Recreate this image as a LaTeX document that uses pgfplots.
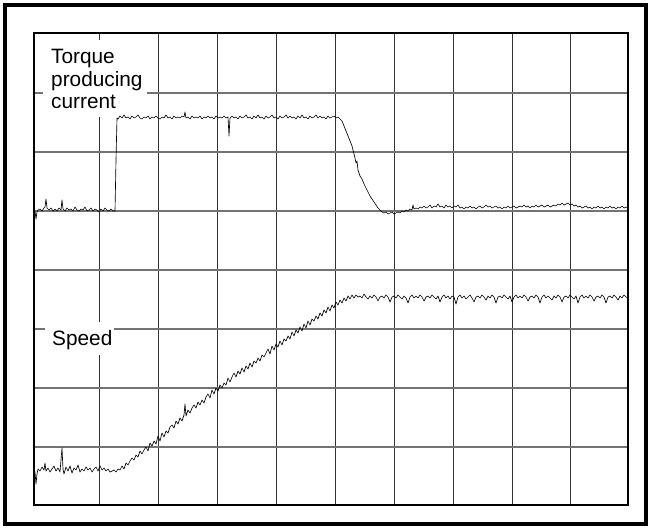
\documentclass[border=0pt]{standalone}
\usepackage{pgfplots}
\pgfplotsset{compat=1.18}
\usepackage{fontspec}
\setmainfont{Liberation Sans}

\begin{document}
\begin{tikzpicture}[x=1pt,y=1pt]
\useasboundingbox (0,0) rectangle (652,531);
% outer frame
\draw[line width=4pt] (5,7) rectangle (646,526);
\begin{axis}[
  at={(34pt,26pt)}, anchor=south west,
  scale only axis, width=594pt, height=472pt,
  xmin=34, xmax=628, ymin=33, ymax=505, y dir=reverse,
  xtick={99,158,217,276,335,394,453,512,570},
  ytick={93,152,211,270,329,388,447},
  xticklabels={}, yticklabels={},
  major tick length=0pt,
  grid=major,
  major x grid style={black!80, line width=1pt},
  major y grid style={black!55, line width=1.2pt},
  axis line style={black, line width=1.4pt},
  clip=false,
]
% white boxes behind the labels
\fill[white] (axis cs:43,40) rectangle (axis cs:147,117);
\fill[white] (axis cs:45,322) rectangle (axis cs:114,355);
\node[anchor=base west, inner sep=0pt, font=\fontsize{20.8pt}{23pt}\selectfont] at (axis cs:51,63) {Torque};
\node[anchor=base west, inner sep=0pt, font=\fontsize{20.8pt}{23pt}\selectfont] at (axis cs:51,86) {producing};
\node[anchor=base west, inner sep=0pt, font=\fontsize{20.8pt}{23pt}\selectfont] at (axis cs:51,108) {current};
\node[anchor=base west, inner sep=0pt, font=\fontsize{20.8pt}{23pt}\selectfont] at (axis cs:52,345) {Speed};

% torque producing current
\addplot[black, line width=0.65pt, line join=round] coordinates {
(34,210)(35,211)(36,219)(37,212)(38,210)(40,209)(42,211)(44,208)(45,207)(46,199)(47,208)(49,210)
(51,208)(53,211)(55,209)(57,211)(59,208)(61,210)(62,200)(63,209)(65,211)(67,208)(69,210)(71,209)
(73,211)(75,207)(77,210)(79,211)(81,209)(83,210)(85,207)(87,211)(89,210)(91,208)(93,211)(95,209)
(97,210)(99,212)(101,209)(103,211)(105,208)(107,210)(109,211)(111,209)(113,211)(115,211)
(116,160)(117,118)
(118,119)(120,116)(122,118)(124,115)(126,118)(128,117)(130,119)(132,116)(134,118)(136,117)(138,115)
(140,118)(142,119)(144,117)(146,118)(148,116)(150,119)(152,117)(154,118)(156,116)(158,118)(160,119)
(162,117)(164,118)(166,115)(168,118)(170,117)(172,119)(174,116)(176,118)(178,117)(180,118)(182,116)
(184,117)(185,112)(186,118)(188,117)(190,119)(192,116)(194,118)(196,117)(198,118)(200,116)(202,119)
(204,117)(206,118)(208,116)(210,118)(212,117)(214,119)(216,116)(218,118)(220,117)(222,118)(224,116)
(226,118)(228,117)(229,136)(230,118)(232,116)(234,118)(236,117)(238,119)(240,116)(242,118)(244,117)
(246,115)(248,118)(250,117)(252,119)(254,116)(256,118)(258,115)(260,118)(262,117)(264,119)(266,116)
(268,118)(270,117)(272,115)(274,118)(276,117)(278,119)(280,116)(282,118)(284,117)(286,115)(288,118)
(290,116)(292,118)(294,117)(296,119)(298,116)(300,118)(302,115)(304,118)(306,117)(308,119)(310,116)
(312,118)(314,117)(316,115)(318,118)(320,116)(322,118)(324,117)(326,119)(328,116)(330,118)(332,117)
(334,116)(336,118)(338,117)(340,119)
(342,121)(344,126)(346,131)(348,136)(350,141)(352,146)(353,150)(355,158)(356,163)(357,161)(358,170)
(360,176)(362,179)(364,184)(366,188)(368,192)(370,196)(372,199)(374,202)(376,205)(378,208)(380,210)
(382,212)(384,213)(386,212)(388,214)(390,213)(392,212)(394,214)(396,213)(398,212)(400,213)(402,211)
(404,212)(406,210)(408,211)(410,209)(412,210)(413,205)(414,209)(416,208)(418,209)(420,207)(422,208)
(424,206)(426,208)(428,207)(430,205)(432,208)(434,206)(436,207)(438,204)(440,207)(442,206)(444,208)
(446,205)(448,207)(450,206)(452,208)(454,206)(456,207)(458,205)(460,208)(462,207)(464,209)(466,207)
(468,208)(470,206)(472,208)(474,207)(476,209)(478,207)(480,206)(482,208)(484,207)(486,205)(488,207)
(490,206)(492,208)(494,207)(496,206)(498,208)(500,207)(502,209)(504,207)(506,208)(508,206)(510,208)
(512,207)(514,206)(516,208)(518,207)(520,206)(522,207)(524,205)(526,207)(528,206)(530,208)(532,206)
(534,207)(536,205)(538,207)(540,206)(542,205)(544,207)(546,206)(548,205)(550,207)(552,206)(554,205)
(556,206)(558,204)(560,205)(562,203)(564,205)(566,204)(568,203)(570,205)(572,204)(574,206)(576,205)
(578,207)(580,206)(582,208)(584,207)(586,206)(588,208)(590,207)(592,209)(594,207)(596,208)(598,206)
(600,208)(602,207)(604,209)(606,207)(608,208)(610,206)(612,208)(614,207)(616,209)(618,207)(620,208)
(622,206)(624,208)(626,207)(628,208)
};

% speed
\addplot[black, line width=0.65pt, line join=round] coordinates {
(34,470)(35,472)(36,484)(37,474)(38,469)(40,471)(42,467)(44,470)(45,463)(46,471)(48,468)(50,472)
(52,469)(54,466)(56,471)(58,468)(60,472)(62,448)(63,469)(64,474)(66,467)(68,471)(70,466)(72,473)
(74,468)(76,470)(78,465)(80,472)(82,469)(84,471)(86,467)(88,470)(90,468)(92,472)(94,469)(96,467)
(98,471)(100,466)(102,470)(104,468)(106,471)(108,469)(110,472)(112,471)(114,470)
(116,472)(118,469)(120,470)(122,466)(124,469)(126,463)(128,465)(130,461)(132,458)(134,460)(136,455)
(138,457)(140,451)(142,454)(144,450)(146,447)(148,451)(150,443)(152,446)(154,441)(156,444)(158,436)
(160,441)(162,433)(164,437)(166,431)(168,433)(170,427)(172,425)(174,428)(176,421)(178,424)(180,418)
(182,421)(184,415)(185,404)(186,416)(188,410)(190,413)(192,408)(194,405)(196,408)(198,402)(200,405)
(202,400)(204,403)(206,397)(208,394)(210,398)(212,390)(214,394)(216,388)(218,391)(220,385)(222,388)
(224,383)(226,385)(228,378)(230,382)(232,377)(234,373)(236,377)(238,371)(240,374)(242,368)(244,372)
(246,366)(248,369)(250,363)(252,367)(254,361)(256,363)(258,358)(260,361)(262,355)(264,357)(266,353)
(268,349)(270,354)(272,346)(274,350)(276,344)(278,347)(280,341)(282,345)(284,339)(286,341)(288,336)
(290,339)(292,332)(294,336)(296,330)(298,333)(300,327)(302,331)(304,324)(306,328)(308,321)(310,325)
(312,319)(314,321)(316,316)(318,319)(320,313)(322,316)(324,310)(326,313)(328,307)(330,311)(332,305)
(334,308)(336,302)(338,305)(340,300)(342,303)(344,298)(346,301)(348,296)(350,299)(352,295)(354,298)
(356,295)(358,297)
(360,296)(362,298)(364,294)(366,297)(368,299)(370,296)(372,298)(374,295)(376,297)(378,301)(380,297)
(382,296)(384,298)(386,295)(388,297)(390,302)(392,297)(394,296)(396,298)(398,295)(400,297)(402,299)
(404,296)(406,298)(408,303)(410,297)(412,295)(414,298)(416,296)(418,298)(420,295)(422,297)(424,301)
(426,297)(428,296)(430,298)(432,295)(434,297)(436,299)(438,296)(440,302)(442,297)(444,295)(446,298)
(448,296)(450,299)(452,296)(454,297)(456,304)(458,297)(460,295)(462,298)(464,296)(466,299)(468,297)
(470,295)(472,298)(474,302)(476,297)(478,296)(480,298)(482,295)(484,297)(486,300)(488,296)(490,298)
(492,295)(494,297)(496,303)(498,297)(500,296)(502,298)(504,295)(506,297)(508,299)(510,296)(512,302)
(514,297)(516,295)(518,298)(520,296)(522,298)(524,295)(526,297)(528,301)(530,297)(532,296)(534,298)
(536,295)(538,297)(540,303)(542,297)(544,295)(546,298)(548,296)(550,298)(552,300)(554,296)(556,298)
(558,295)(560,297)(562,302)(564,297)(566,296)(568,298)(570,295)(572,297)(574,299)(576,296)(578,303)
(580,297)(582,295)(584,298)(586,296)(588,298)(590,295)(592,297)(594,301)(596,297)(598,296)(600,298)
(602,295)(604,297)(606,303)(608,297)(610,296)(612,298)(614,295)(616,297)(618,300)(620,296)(622,298)
(624,295)(626,297)(628,298)
};
\end{axis}
\end{tikzpicture}
\end{document}
